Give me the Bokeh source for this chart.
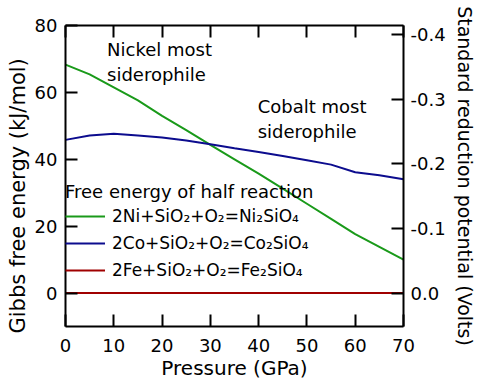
from bokeh.plotting import figure
from bokeh.models import (Range1d, LinearAxis, FixedTicker, NumeralTickFormatter,
                          CustomJSTickFormatter, Legend, LegendItem, Label, Title)
from bokeh.embed import file_html
from bokeh.resources import INLINE

pressure = [0, 5, 10, 15, 20, 25, 30, 35, 40, 45, 50, 55, 60, 65, 70]
ni_energy = [68.3, 65.4, 61.5, 57.6, 53.0, 48.7, 44.3, 40.0, 35.7, 31.2, 26.7, 22.2, 17.6, 13.8, 10.0]
co_energy = [45.8, 47.1, 47.6, 47.1, 46.5, 45.6, 44.5, 43.3, 42.2, 41.0, 39.7, 38.4, 36.1, 35.2, 34.0]
fe_energy = [0, 0, 0, 0, 0, 0, 0, 0, 0, 0, 0, 0, 0, 0, 0]

x_ticks = [0, 10, 20, 30, 40, 50, 60, 70]
y_ticks = [0, 20, 40, 60, 80]
volt_ticks = [0.0, -0.1, -0.2, -0.3, -0.4]

labels = ["2Ni+SiO\u2082+O\u2082=Ni\u2082SiO\u2084",
          "2Co+SiO\u2082+O\u2082=Co\u2082SiO\u2084",
          "2Fe+SiO\u2082+O\u2082=Fe\u2082SiO\u2084"]
colors = ["#1a9a1a", "#0c0c8e", "#a00000"]

FARADAY2 = 2 * 96.485  # kJ/mol per volt for 2 electrons
x_lo, x_hi = 0, 70
y_lo, y_hi = -10, 80

FONT = "DejaVu Sans"

p = figure(width=478, height=382, output_backend="svg", toolbar_location=None,
           x_range=Range1d(x_lo, x_hi), y_range=Range1d(y_lo, y_hi),
           min_border_left=65, min_border_top=25, min_border_right=73, min_border_bottom=56,
           x_axis_label="Pressure (GPa)")
p.grid.visible = False
p.outline_line_color = None
p.extra_y_ranges = {"volts": Range1d(-y_lo / FARADAY2, -y_hi / FARADAY2)}

bottom = p.below[0]
left = p.left[0]

renderers = []
for vals, c in zip([ni_energy, co_energy, fe_energy], colors):
    r = p.line(pressure, vals, line_color=c, line_width=2)
    renderers.append(r)

right = LinearAxis(y_range_name="volts", axis_label="Standard reduction potential (Volts)")
top = LinearAxis()
p.add_layout(right, "right")
p.add_layout(top, "above")

for ax in [bottom, left, right, top]:
    ax.axis_line_width = 2
    ax.axis_line_color = "black"
    ax.major_tick_line_color = "black"
    ax.major_tick_line_width = 2
    ax.major_tick_in = 12
    ax.major_tick_out = 0
    ax.minor_tick_line_color = None
    ax.major_label_text_font = FONT
    ax.major_label_text_font_size = "18px"
    ax.major_label_text_color = "black"
    ax.axis_label_text_font = FONT
    ax.axis_label_text_font_size = "19px"
    ax.axis_label_text_font_style = "normal"
    ax.axis_label_text_color = "black"

bottom.ticker = FixedTicker(ticks=x_ticks)
bottom.axis_label_text_font_size = "20px"
top.ticker = FixedTicker(ticks=x_ticks)
top.formatter = CustomJSTickFormatter(code="return ''")
top.major_label_standoff = 0
left.ticker = FixedTicker(ticks=y_ticks)
right.ticker = FixedTicker(ticks=volt_ticks)
right.formatter = NumeralTickFormatter(format="0.0")

bottom.major_label_standoff = 12
bottom.axis_label_standoff = 1
left.major_label_standoff = 8
right.major_label_standoff = 7
right.axis_label_standoff = 5

# left axis title, starting a little below the frame bottom as in the original
p.add_layout(Title(text="Gibbs free energy (kJ/mol)", align="left", offset=-7, standoff=4,
                   text_font=FONT, text_font_size="21px", text_font_style="normal",
                   text_color="black"), "left")

legend = Legend(items=[LegendItem(label=l, renderers=[r]) for l, r in zip(labels, renderers)],
                title="Free energy of half reaction",
                location=(0, 46), padding=4, margin=0, spacing=7,
                glyph_width=40, glyph_height=20, label_height=20, label_standoff=7,
                title_standoff=4,
                background_fill_alpha=0, border_line_color=None,
                label_text_font=FONT, label_text_font_size="17px", label_text_color="black",
                title_text_font=FONT, title_text_font_size="18px", title_text_color="black",
                title_text_font_style="normal")
p.add_layout(legend, "center")

for txt, x, y in [("Nickel most", 8.6, 72.8), ("siderophile", 8.6, 65.3),
                  ("Cobalt most", 39.8, 55.7), ("siderophile", 39.8, 48.2)]:
    p.add_layout(Label(x=x, y=y, text=txt, text_font=FONT, text_font_size="18px",
                       text_baseline="middle", text_color="black"))

open("out.html", "w").write(file_html(p, INLINE))
